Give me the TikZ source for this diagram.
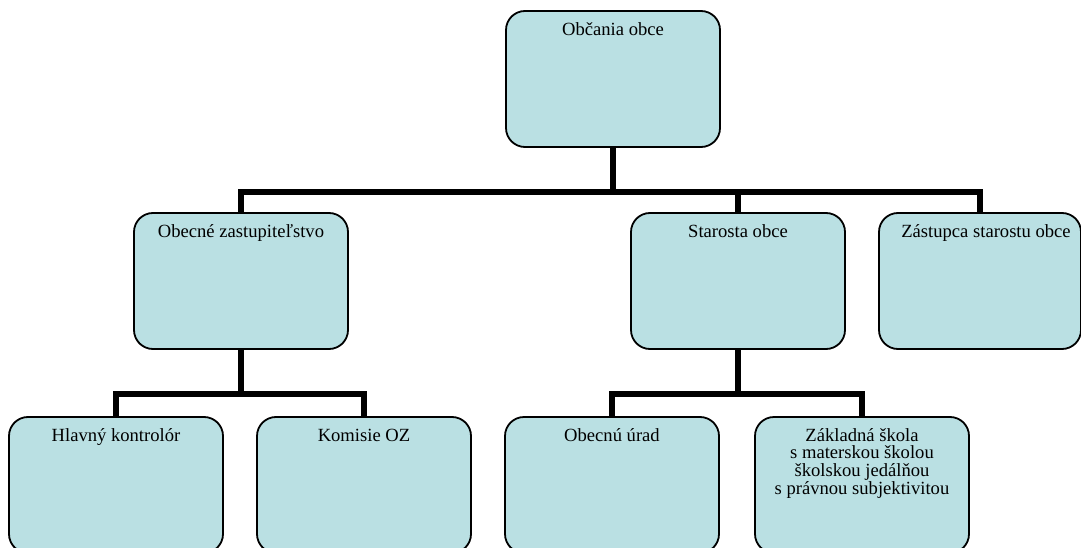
\documentclass[tikz,border=0pt]{standalone}
\usepackage{fontspec}
\setmainfont{Liberation Serif}
\definecolor{boxfill}{RGB}{186,224,227}
\begin{document}
\begin{tikzpicture}[x=1pt,y=-1pt,
  orgbox/.style={draw=black, line width=1.8pt, fill=boxfill, rounded corners=19pt,
    minimum width=#1, minimum height=136pt, inner sep=0pt},
  orgbox/.default=214pt,
  conn/.style={line width=5.5pt, line cap=butt, line join=miter},
  lbl/.style={anchor=north, inner sep=0pt, align=center,
    font=\fontsize{18.6pt}{17.6pt}\selectfont}
]
\useasboundingbox (0,0) rectangle (1081,548);
% boxes
\node[orgbox, minimum height=136pt] (obcania) at (613,79) {};
\node[orgbox] (zast) at (241,281) {};
\node[orgbox] (star) at (738,281) {};
\node[orgbox=202pt] (zastup) at (980,281) {};
\node[orgbox] (hlav) at (116,485) {};
\node[orgbox] (kom) at (364,485) {};
\node[orgbox] (urad) at (612,485) {};
\node[orgbox] (skola) at (862,485) {};
% labels
\node[lbl] (tobcania) at ([yshift=-11pt]obcania.north) {\rule{0pt}{14pt}Občania obce};
\node[lbl] (tzast) at ([yshift=-11pt]zast.north) {\rule{0pt}{14pt}Obecné zastupiteľstvo};
\node[lbl] (tstar) at ([yshift=-11pt]star.north) {\rule{0pt}{14pt}Starosta obce};
\node[lbl] (tzastup) at ([xshift=6pt,yshift=-11pt]zastup.north) {\rule{0pt}{14pt}Zástupca starostu obce};
\node[lbl] (thlav) at ([yshift=-11pt]hlav.north) {\rule{0pt}{14pt}Hlavný kontrolór};
\node[lbl] (tkom) at ([yshift=-11pt]kom.north) {\rule{0pt}{14pt}Komisie OZ};
\node[lbl] (turad) at ([yshift=-11pt]urad.north) {\rule{0pt}{14pt}Obecnú úrad};
\node[lbl] (tskola) at ([yshift=-11pt]skola.north) {\rule{0pt}{14pt}Základná škola\\s materskou školou\\školskou jedálňou\\s právnou subjektivitou};
% junction coordinates
\coordinate (j1) at (613,192);
\coordinate (j2) at (241,394);
\coordinate (j3) at (738,394);
% connectors
\draw[conn] (obcania.south) -- (j1);
\draw[conn] (zast.north) |- (j1) -| (zastup.north);
\draw[conn] (j1) -| (star.north);
\draw[conn] (zast.south) -- (j2);
\draw[conn] (hlav.north) |- (j2) -| (kom.north);
\draw[conn] (star.south) -- (j3);
\draw[conn] (urad.north) |- (j3) -| (skola.north);
\end{tikzpicture}
\end{document}
